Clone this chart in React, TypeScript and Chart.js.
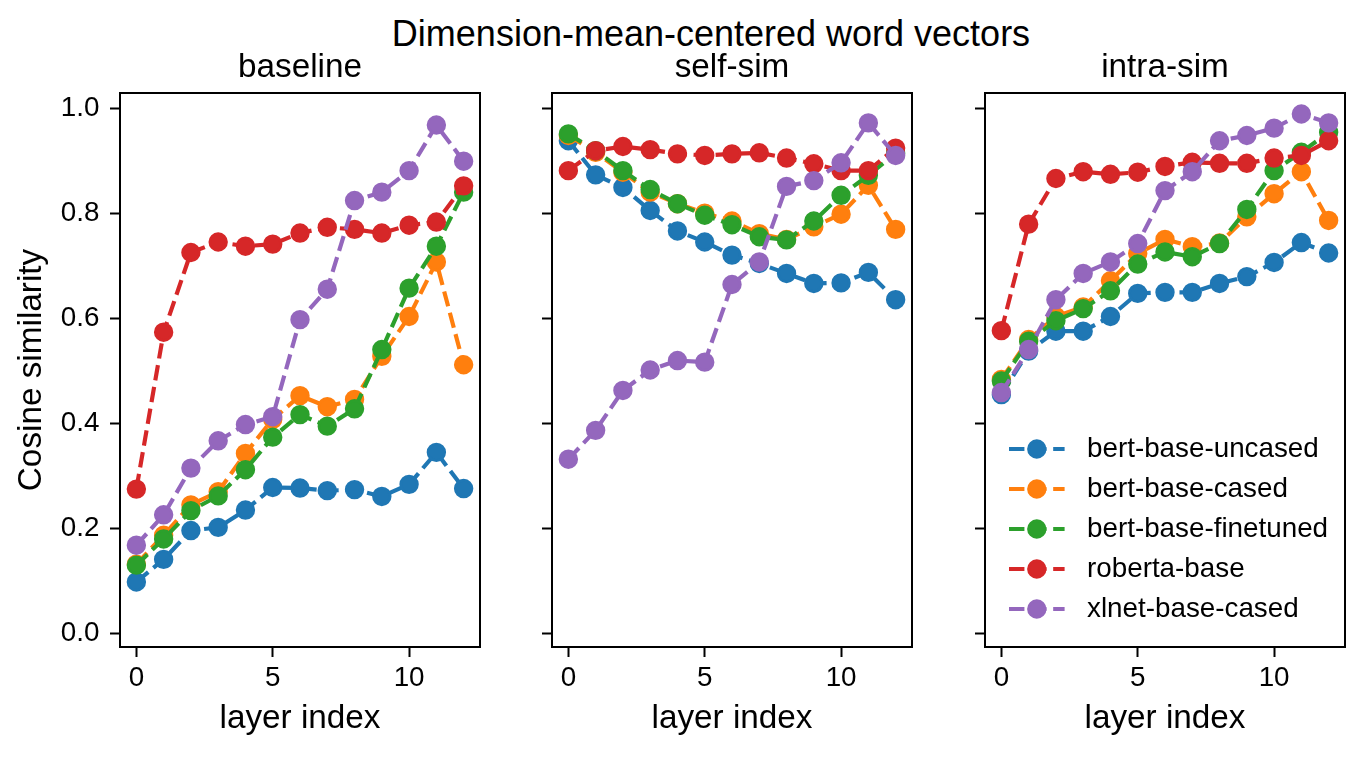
import React, { useEffect, useRef } from "react";
import { Chart, registerables } from "chart.js";

Chart.register(...registerables);

// ---------------- data ----------------
const LAYERS = [0, 1, 2, 3, 4, 5, 6, 7, 8, 9, 10, 11, 12];
const MODELS = [
  "bert-base-uncased",
  "bert-base-cased",
  "bert-base-finetuned",
  "roberta-base",
  "xlnet-base-cased",
];
const COLORS = ["#1f77b4", "#ff7f0e", "#2ca02c", "#d62728", "#9467bd"];
const SUPTITLE = "Dimension-mean-centered word vectors";
const PANEL_TITLES = ["baseline", "self-sim", "intra-sim"];
const X_LABEL = "layer index";
const Y_LABEL = "Cosine similarity";
const X_TICKS = [0, 5, 10];
const Y_TICKS = [0.0, 0.2, 0.4, 0.6, 0.8, 1.0];

// baseline
const BASE_UNCASED = [0.098, 0.141, 0.196, 0.202, 0.235, 0.278, 0.277, 0.272, 0.274, 0.261, 0.284, 0.345, 0.276];
const BASE_CASED = [0.132, 0.187, 0.245, 0.270, 0.343, 0.408, 0.453, 0.432, 0.446, 0.528, 0.604, 0.708, 0.512];
const BASE_FINETUNED = [0.130, 0.180, 0.234, 0.262, 0.312, 0.374, 0.417, 0.395, 0.428, 0.541, 0.658, 0.738, 0.841];
const BASE_ROBERTA = [0.275, 0.574, 0.726, 0.746, 0.738, 0.742, 0.763, 0.774, 0.770, 0.763, 0.778, 0.784, 0.853];
const BASE_XLNET = [0.168, 0.226, 0.315, 0.367, 0.398, 0.413, 0.598, 0.656, 0.825, 0.841, 0.882, 0.969, 0.900];

// self-sim
const SELF_UNCASED = [0.939, 0.874, 0.850, 0.806, 0.767, 0.746, 0.721, 0.705, 0.686, 0.667, 0.668, 0.688, 0.636];
const SELF_CASED = [0.949, 0.917, 0.879, 0.841, 0.819, 0.801, 0.786, 0.762, 0.751, 0.775, 0.799, 0.854, 0.770];
const SELF_FINETUNED = [0.952, 0.920, 0.882, 0.846, 0.819, 0.797, 0.779, 0.756, 0.750, 0.786, 0.835, 0.873, 0.915];
const SELF_ROBERTA = [0.882, 0.920, 0.928, 0.922, 0.914, 0.911, 0.914, 0.916, 0.906, 0.895, 0.882, 0.882, 0.925];
const SELF_XLNET = [0.332, 0.387, 0.463, 0.502, 0.520, 0.517, 0.665, 0.708, 0.852, 0.863, 0.897, 0.973, 0.911];

// intra-sim
const INTRA_UNCASED = [0.455, 0.538, 0.576, 0.576, 0.604, 0.648, 0.650, 0.650, 0.667, 0.680, 0.707, 0.745, 0.725];
const INTRA_CASED = [0.484, 0.560, 0.604, 0.622, 0.672, 0.724, 0.751, 0.737, 0.744, 0.794, 0.838, 0.880, 0.787];
const INTRA_FINETUNED = [0.481, 0.557, 0.596, 0.619, 0.653, 0.704, 0.727, 0.718, 0.743, 0.808, 0.882, 0.917, 0.955];
const INTRA_ROBERTA = [0.577, 0.780, 0.867, 0.880, 0.875, 0.879, 0.890, 0.898, 0.896, 0.896, 0.906, 0.911, 0.939];
const INTRA_XLNET = [0.459, 0.541, 0.636, 0.686, 0.708, 0.743, 0.844, 0.880, 0.939, 0.949, 0.963, 0.990, 0.973];

const PANEL_SERIES = [
  [BASE_UNCASED, BASE_CASED, BASE_FINETUNED, BASE_ROBERTA, BASE_XLNET],
  [SELF_UNCASED, SELF_CASED, SELF_FINETUNED, SELF_ROBERTA, SELF_XLNET],
  [INTRA_UNCASED, INTRA_CASED, INTRA_FINETUNED, INTRA_ROBERTA, INTRA_XLNET],
];

// ---------------- layout / style ----------------
const W = 1364;
const H = 757;
const FONT = "'Liberation Sans', Arial, Helvetica, sans-serif";
const TICK_SIZE = 27.8;
const LABEL_SIZE = 33.3;
const PLOT_TOP = 93;
const PLOT_BOTTOM = 647;
const PANELS = [
  { left: 120, right: 480, yAxisWidth: 120, showY: true, legend: false },
  { left: 552, right: 912, yAxisWidth: 12, showY: false, legend: false },
  { left: 985, right: 1345, yAxisWidth: 12, showY: false, legend: true },
];
const LINE_W = 4.17;
const DASH = [15.42, 6.67];
const MARKER_R = 8.3;
const MARKER_EDGE = 2.8;

const framePlugin = {
  id: "axesFrame",
  afterDatasetsDraw(chart: any) {
    const { ctx, chartArea: a } = chart;
    ctx.save();
    ctx.setLineDash([]);
    ctx.strokeStyle = "#000";
    ctx.lineWidth = 2;
    ctx.strokeRect(a.left, a.top, a.right - a.left, a.bottom - a.top);
    ctx.restore();
  },
};

const innerLegendPlugin = {
  id: "innerLegend",
  afterDraw(chart: any) {
    const { ctx } = chart;
    const rowY = [449, 489, 529, 569, 609];
    const x0 = 1009;
    const len = 55.6;
    ctx.save();
    chart.data.datasets.forEach((ds: any, i: number) => {
      const y = rowY[i];
      ctx.setLineDash(DASH);
      ctx.lineCap = "butt";
      ctx.strokeStyle = ds.borderColor;
      ctx.lineWidth = LINE_W;
      ctx.beginPath();
      ctx.moveTo(x0, y);
      ctx.lineTo(x0 + len, y);
      ctx.stroke();
      ctx.setLineDash([]);
      ctx.beginPath();
      ctx.arc(x0 + len / 2, y, MARKER_R, 0, Math.PI * 2);
      ctx.fillStyle = ds.backgroundColor;
      ctx.fill();
      ctx.lineWidth = MARKER_EDGE;
      ctx.stroke();
      ctx.fillStyle = "#000";
      ctx.font = `${TICK_SIZE}px ${FONT}`;
      ctx.textBaseline = "middle";
      ctx.textAlign = "left";
      ctx.fillText(ds.label, 1087, y);
    });
    ctx.restore();
  },
};

function makeConfig(p: number): any {
  const panel = PANELS[p];
  const series = PANEL_SERIES[p];
  const datasets = MODELS.map((name, i) => ({
    label: name,
    data: LAYERS.map((x, j) => ({ x, y: series[i][j] })),
    borderColor: COLORS[i],
    backgroundColor: COLORS[i],
    borderWidth: LINE_W,
    borderDash: DASH,
    borderJoinStyle: "round",
    borderCapStyle: "butt",
    pointRadius: MARKER_R,
    pointHoverRadius: MARKER_R,
    pointBorderWidth: MARKER_EDGE,
    pointBackgroundColor: COLORS[i],
    pointBorderColor: COLORS[i],
    tension: 0,
    fill: false,
    clip: false,
    order: MODELS.length - i,
  }));
  const plugins: any[] = [framePlugin];
  if (panel.legend) plugins.push(innerLegendPlugin);
  return {
    type: "line",
    data: { datasets },
    plugins,
    options: {
      responsive: false,
      maintainAspectRatio: false,
      animation: false,
      events: [],
      layout: {
        padding: {
          left: panel.left - panel.yAxisWidth,
          right: W - panel.right,
          top: 0,
          bottom: 0,
        },
      },
      plugins: {
        legend: { display: false },
        tooltip: { enabled: false },
        title: {
          display: true,
          text: PANEL_TITLES[p],
          fullSize: false,
          color: "#000",
          font: { family: FONT, size: LABEL_SIZE, weight: "normal", lineHeight: 1.2 },
          padding: { top: 48, bottom: PLOT_TOP - 48 - LABEL_SIZE * 1.2 },
        },
      },
      scales: {
        x: {
          type: "linear",
          min: -0.6,
          max: 12.6,
          afterBuildTicks: (s: any) => {
            s.ticks = X_TICKS.map((v) => ({ value: v }));
          },
          afterFit: (s: any) => {
            s.height = H - PLOT_BOTTOM;
          },
          ticks: {
            display: true,
            padding: 5,
            color: "#000",
            maxRotation: 0,
            autoSkip: false,
            font: { family: FONT, size: TICK_SIZE },
            callback: (v: any) => String(v),
          },
          grid: {
            display: true,
            drawOnChartArea: false,
            drawTicks: true,
            tickLength: 10,
            tickColor: "#000",
            tickWidth: 2,
            color: "#000",
          },
          border: { display: false },
          title: {
            display: true,
            text: X_LABEL,
            color: "#000",
            font: { family: FONT, size: LABEL_SIZE, lineHeight: 1.2 },
            padding: { top: 0, bottom: 18.6 },
          },
        },
        y: {
          type: "linear",
          min: -0.026,
          max: 1.03,
          afterBuildTicks: (s: any) => {
            s.ticks = Y_TICKS.map((v) => ({ value: v }));
          },
          afterFit: (s: any) => {
            s.width = panel.yAxisWidth;
          },
          ticks: {
            display: panel.showY,
            padding: 10.5,
            color: "#000",
            autoSkip: false,
            font: { family: FONT, size: TICK_SIZE },
            callback: (v: any) => Number(v).toFixed(1),
          },
          grid: {
            display: true,
            drawOnChartArea: false,
            drawTicks: true,
            tickLength: 10,
            tickColor: "#000",
            tickWidth: 2,
            color: "#000",
          },
          border: { display: false },
          title: {
            display: panel.showY,
            text: Y_LABEL,
            color: "#000",
            font: { family: FONT, size: LABEL_SIZE, lineHeight: 1.2 },
            padding: { top: 11.5, bottom: 0 },
          },
        },
      },
    },
  };
}

export default function App() {
  const r0 = useRef<HTMLCanvasElement>(null);
  const r1 = useRef<HTMLCanvasElement>(null);
  const r2 = useRef<HTMLCanvasElement>(null);

  useEffect(() => {
    const refs = [r0, r1, r2];
    const charts = refs.map((r, i) => new Chart(r.current as HTMLCanvasElement, makeConfig(i)));
    return () => charts.forEach((c) => c.destroy());
  }, []);

  const canvasStyle: React.CSSProperties = {
    position: "absolute",
    left: 0,
    top: 0,
    width: W,
    height: H,
  };

  return (
    <div
      style={{
        position: "absolute",
        left: 0,
        top: 0,
        width: W,
        height: H,
        background: "#fff",
        overflow: "hidden",
      }}
    >
      <div
        style={{
          position: "absolute",
          left: 211,
          top: 16.4,
          width: 1000,
          textAlign: "center",
          fontFamily: FONT,
          fontSize: 36,
          lineHeight: "36px",
          color: "#000",
          whiteSpace: "nowrap",
        }}
      >
        {SUPTITLE}
      </div>
      <canvas ref={r0} width={W} height={H} style={canvasStyle} />
      <canvas ref={r1} width={W} height={H} style={canvasStyle} />
      <canvas ref={r2} width={W} height={H} style={canvasStyle} />
    </div>
  );
}
